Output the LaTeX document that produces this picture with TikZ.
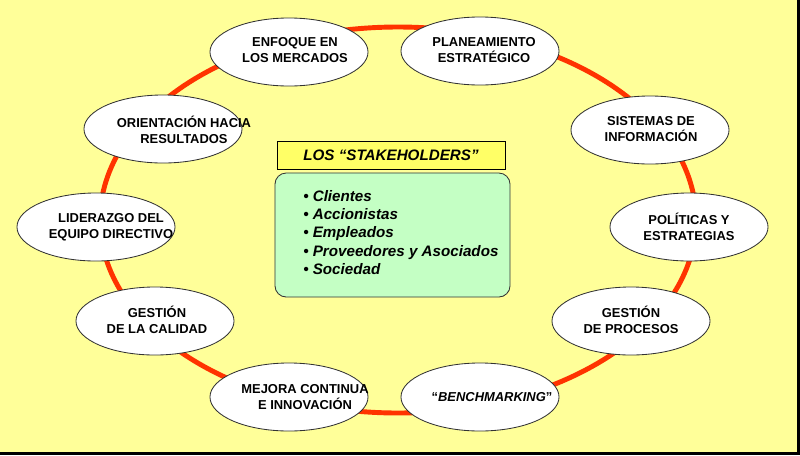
\documentclass[tikz,border=0pt]{standalone}
\usepackage{fontspec}
\setmainfont{Liberation Sans}
\usetikzlibrary{shapes.geometric,positioning}
\definecolor{bgYellow}{HTML}{FFFF99}
\definecolor{ttlYellow}{HTML}{FFFF66}
\definecolor{ringRed}{HTML}{FF3300}
\definecolor{boxGreen}{HTML}{C4FFC4}

\begin{document}
\begin{tikzpicture}[x=0.025cm,y=-0.025cm,
      oval/.style={ellipse,draw=black!80,line width=0.6pt,fill=white,
                   minimum width=3.95cm,minimum height=1.7cm,inner sep=0pt},
      otext/.style={align=center,inner sep=0pt,
                    font=\fontsize{9.2}{11.4}\selectfont\bfseries},
      ttl/.style={draw=black,line width=0.6pt,fill=ttlYellow,
                  minimum width=5.7cm,minimum height=0.7cm,inner sep=0pt,
                  font=\fontsize{10.8}{13}\selectfont\bfseries\itshape},
      grp/.style={draw=black!80,line width=0.6pt,fill=boxGreen,rounded corners=8pt,
                  minimum width=5.875cm,minimum height=3.1cm,inner sep=0pt},
      lst/.style={align=left,inner sep=0pt,anchor=west,
                  font=\fontsize{10.8}{13}\selectfont\bfseries\itshape}]

    \useasboundingbox (0,0) rectangle (800,455);
    \fill[bgYellow] (0,0) rectangle (800,455);
    \draw[black,line width=1.5pt] (0,453.5) -- (800,453.5);
    \draw[black,line width=1.5pt] (798.5,0) -- (798.5,455);

    % the ring that ties the ovals together, behind them
    \draw[ringRed,line width=3.5pt] (398,220) ellipse (298 and 193);

    \node[oval] (mer) at (289,52)  {};
    \node[oval] (pla) at (480,51)  {};
    \node[oval] (sis) at (650,130) {};
    \node[oval] (pol) at (689,227) {};
    \node[oval] (pro) at (631,321) {};
    \node[oval] (ben) at (480,397) {};
    \node[oval] (mej) at (289,397) {};
    \node[oval] (cal) at (155,321) {};
    \node[oval] (lid) at (96,227)  {};
    \node[oval] (ori) at (163,129) {};

    % texts sit a little right of their ovals, as in the slide
    \node[otext] (merT) at (295,50)  {ENFOQUE EN\\LOS MERCADOS};
    \node[otext] (plaT) at (484,50)  {PLANEAMIENTO\\ESTRATÉGICO};
    \node[otext] (sisT) at (651,129) {SISTEMAS DE\\INFORMACIÓN};
    \node[otext] (polT) at (689,227) {POLÍTICAS Y\\ESTRATEGIAS};
    \node[otext] (proT) at (631,320) {GESTIÓN\\DE PROCESOS};
    \node[otext] (benT) at (492,397) {\mdseries\bfseries “\textit{BENCHMARKING}”};
    \node[otext] (mejT) at (305,397) {MEJORA CONTINUA\\E INNOVACIÓN};
    \node[otext] (calT) at (157,320) {GESTIÓN\\DE LA CALIDAD};
    \node[otext] (lidT) at (111,227) {LIDERAZGO DEL\\EQUIPO DIRECTIVO};
    \node[otext] (oriT) at (184,130) {ORIENTACIÓN HACIA\\RESULTADOS};

    % the centre: who the model serves
    \node[ttl] (ttl) at (391,155) {LOS “STAKEHOLDERS”};
    \node[grp] (grp) at (392.5,235) {};
    \node[lst] (lst) at (303,232.5)
      {• Clientes\\• Accionistas\\• Empleados\\• Proveedores y Asociados\\• Sociedad};
  \end{tikzpicture}
\end{document}
